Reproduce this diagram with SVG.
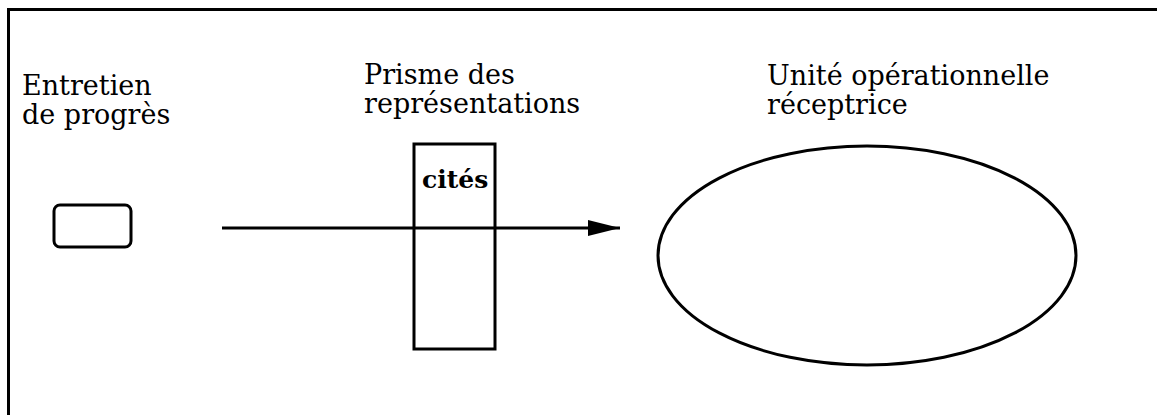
<svg xmlns="http://www.w3.org/2000/svg" width="1157" height="415" viewBox="0 0 1157 415">
<style>
.frame{fill:none;stroke:#000;stroke-width:3}
.shape{fill:none;stroke:#000;stroke-width:3}
.lbl{font-family:"DejaVu Serif","Liberation Serif",serif;font-size:27px;fill:#000}
.bold{font-family:"DejaVu Serif","Liberation Serif",serif;font-size:25px;font-weight:bold;fill:#000}
</style>
<defs>
<marker id="arrow" markerUnits="userSpaceOnUse" markerWidth="34" markerHeight="18" refX="32" refY="9" orient="auto">
<path d="M0,1 L32,9 L0,17 Z" fill="#000"/>
</marker>
</defs>
<rect width="1157" height="415" fill="#fff"/>
<path class="frame" d="M8.5,415 L8.5,9.5 L1157,9.5"/>
<g id="entretien">
<rect class="shape" x="54" y="205" width="77" height="42" rx="6"/>
<text class="lbl" x="22" y="95">Entretien</text>
<text class="lbl" x="22" y="124">de progrès</text>
</g>
<g id="prisme">
<rect class="shape" x="414" y="144" width="81" height="205"/>
<text class="lbl" x="364" y="84">Prisme des</text>
<text class="lbl" x="364" y="113">représentations</text>
<text class="bold" x="422" y="188">cités</text>
</g>
<g id="unite">
<ellipse class="shape" cx="867" cy="255.5" rx="209" ry="109.5"/>
<text class="lbl" x="767" y="85">Unité opérationnelle</text>
<text class="lbl" x="767" y="114">réceptrice</text>
</g>
<g id="connectors">
<line x1="222" y1="228" x2="620" y2="228" stroke="#000" stroke-width="3" marker-end="url(#arrow)"/>
</g>
</svg>
